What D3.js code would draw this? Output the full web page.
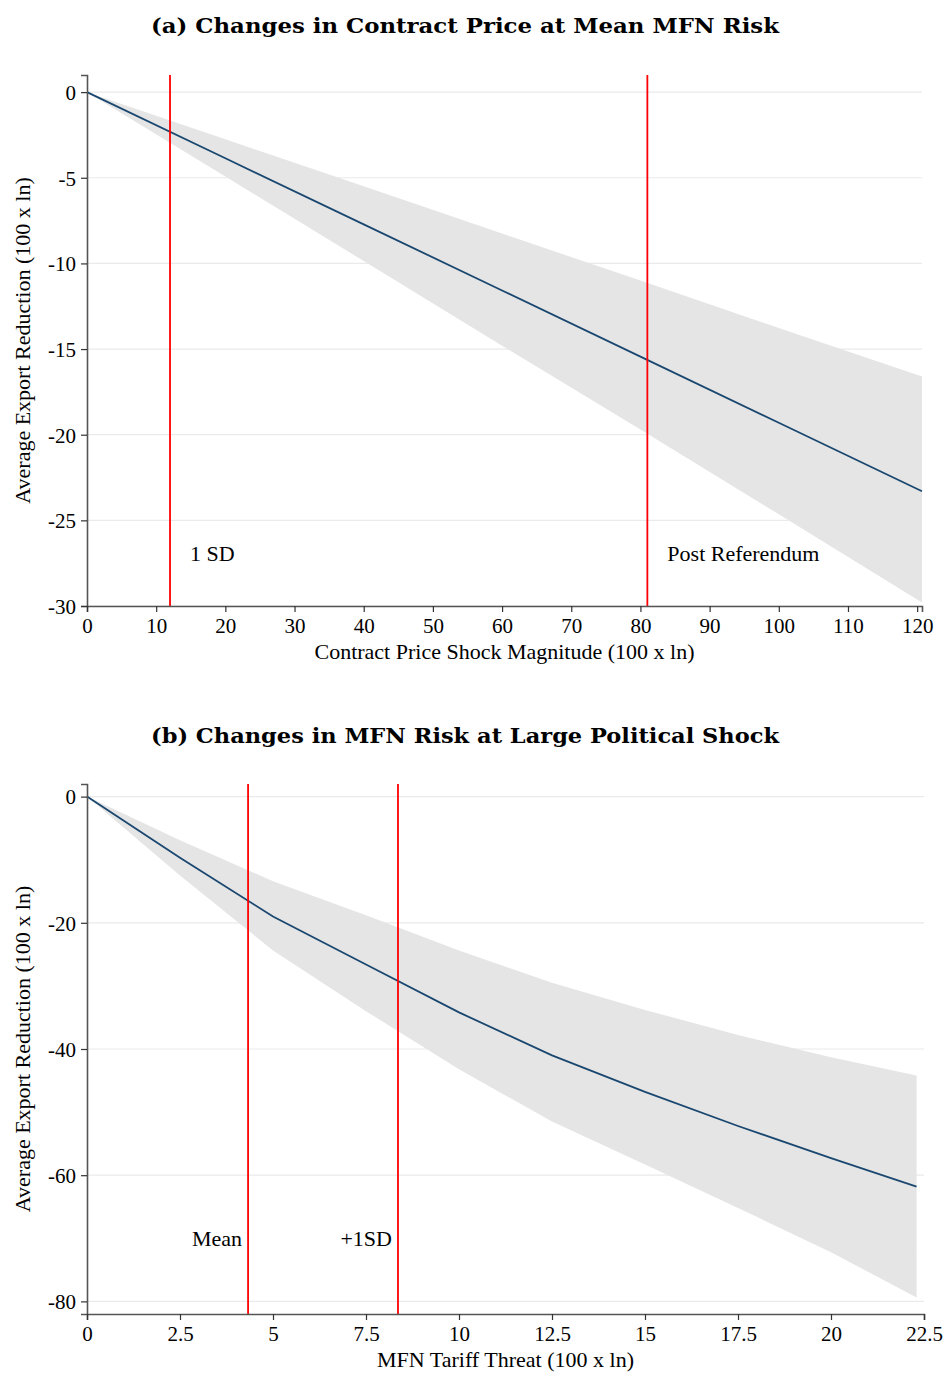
<!DOCTYPE html>
<html>
<head>
<meta charset="utf-8">
<script src="https://cdn.jsdelivr.net/npm/d3@7"></script>
<style>
  body { margin: 0; background: #fff; }
  svg { display: block; }
  text { font-family: "Liberation Serif", "Times New Roman", serif; fill: #000; }
</style>
</head>
<body>
<svg id="chart" width="948" height="1384"></svg>
<script>
// panel (a): contract price shock
const cpX   = [0, 20, 40, 60, 80, 100, 120.7];
const cpEff = [0, -3.86, -7.72, -11.58, -15.44, -19.3, -23.3];
const cpHi  = [0, -2.75, -5.5, -8.26, -11.0, -13.77, -16.6];
const cpLo  = [0, -4.93, -9.86, -14.8, -19.7, -24.65, -29.8];
const cpXTicks = [0, 10, 20, 30, 40, 50, 60, 70, 80, 90, 100, 110, 120];
const cpYTicks = [0, -5, -10, -15, -20, -25, -30];
const cpMarks = [{ x: 12, label: '1 SD' }, { x: 81, label: 'Post Referendum' }];

// panel (b): MFN tariff threat
const mfnX   = [0, 2.5, 5, 7.5, 10, 12.5, 15, 17.5, 20, 22.3];
const mfnEff = [0, -9.7, -19.0, -26.6, -34.2, -41.0, -46.8, -52.2, -57.3, -61.8];
const mfnHi  = [0, -6.9, -13.4, -18.8, -24.4, -29.5, -33.8, -37.8, -41.3, -44.2];
const mfnLo  = [0, -12.5, -24.4, -34.0, -43.2, -51.5, -58.3, -65.2, -72.2, -79.4];
const mfnXTicks = [0, 2.5, 5, 7.5, 10, 12.5, 15, 17.5, 20, 22.5];
const mfnYTicks = [0, -20, -40, -60, -80];
const mfnMarks = [{ x: 4.33, label: 'Mean' }, { x: 8.36, label: '+1SD' }];

const svg = d3.select('#chart');

function drawPanel(p) {
  const x = d3.scaleLinear().domain(p.xDomain).range([87, p.right]);
  const y = d3.scaleLinear().domain(p.yDomain).range([p.bottom, p.top]);
  const g = svg.append('g');

  // title
  g.append('text')
    .attr('x', 465).attr('y', p.titleY)
    .attr('text-anchor', 'middle')
    .attr('textLength', 628).attr('lengthAdjust', 'spacingAndGlyphs')
    .style('font-family', '"DejaVu Serif", serif')
    .style('font-weight', 'bold').style('font-size', '20px')
    .text(p.title);

  // grid
  g.selectAll('.grid').data(p.yTicks).enter().append('line')
    .attr('x1', 87).attr('x2', p.right)
    .attr('y1', d => y(d)).attr('y2', d => y(d))
    .attr('stroke', '#eaeaea').attr('stroke-width', 1.2);

  const pts = p.xs.map((v, i) => ({ x: v, eff: p.eff[i], lo: p.lo[i], hi: p.hi[i] }));

  g.append('path').datum(pts)
    .attr('fill', '#e5e5e5')
    .attr('d', d3.area().x(d => x(d.x)).y0(d => y(d.lo)).y1(d => y(d.hi)));

  g.append('path').datum(pts)
    .attr('fill', 'none').attr('stroke', '#1a476f').attr('stroke-width', 1.8)
    .attr('d', d3.line().x(d => x(d.x)).y(d => y(d.eff)));

  // reference lines
  g.selectAll('.ref').data(p.marks).enter().append('line')
    .attr('x1', d => x(d.x)).attr('x2', d => x(d.x))
    .attr('y1', p.top).attr('y2', p.bottom)
    .attr('stroke', '#ff0000').attr('stroke-width', 1.8);

  g.selectAll('.lab').data(p.marks).enter().append('text')
    .attr('x', d => x(d.x) + (p.labelEnd ? -6 : 20))
    .attr('y', y(p.labelY))
    .attr('text-anchor', p.labelEnd ? 'end' : 'start')
    .style('font-size', '22px')
    .text(d => d.label);

  // axes
  const fmt = d => String(d);
  const yAxis = g.append('g').attr('transform', 'translate(87,0)')
    .call(d3.axisLeft(y).tickValues(p.yTicks).tickSize(6).tickPadding(5).tickFormat(fmt));
  const xAxis = g.append('g').attr('transform', `translate(0,${p.bottom})`)
    .call(d3.axisBottom(x).tickValues(p.xTicks).tickSize(6).tickPadding(4).tickFormat(fmt));
  [yAxis, xAxis].forEach(a => {
    a.select('.domain').attr('stroke', '#555').attr('stroke-width', 1.6);
    a.selectAll('.tick line').attr('stroke', '#333').attr('stroke-width', 1.2);
    a.selectAll('.tick text')
      .style('font-family', '"Liberation Serif", serif').style('font-size', '21px').attr('fill', '#000');
  });
  yAxis.selectAll('.tick text').attr('dy', '0.35em');
  xAxis.selectAll('.tick text').attr('dy', '0.8em');

  g.append('text')
    .attr('x', (87 + p.right) / 2).attr('y', p.bottom + 53)
    .attr('text-anchor', 'middle').style('font-size', '22px')
    .text(p.xTitle);

  g.append('text')
    .attr('transform', `translate(30,${(p.top + p.bottom) / 2}) rotate(-90)`)
    .attr('text-anchor', 'middle').style('font-size', '22px')
    .text('Average Export Reduction (100 x ln)');
}

drawPanel({
  title: '(a) Changes in Contract Price at Mean MFN Risk', titleY: 33,
  xs: cpX, eff: cpEff, lo: cpLo, hi: cpHi,
  xDomain: [0, 120.7], yDomain: [-30, 1],
  right: 922, top: 75, bottom: 606,
  xTicks: cpXTicks, yTicks: cpYTicks, marks: cpMarks, labelY: -27.4, labelEnd: false,
  xTitle: 'Contract Price Shock Magnitude (100 x ln)'
});

drawPanel({
  title: '(b) Changes in MFN Risk at Large Political Shock', titleY: 743,
  xs: mfnX, eff: mfnEff, lo: mfnLo, hi: mfnHi,
  xDomain: [0, 22.5], yDomain: [-82, 2],
  right: 924, top: 784, bottom: 1314,
  xTicks: mfnXTicks, yTicks: mfnYTicks, marks: mfnMarks, labelY: -71.3, labelEnd: true,
  xTitle: 'MFN Tariff Threat (100 x ln)'
});
</script>
</body>
</html>
